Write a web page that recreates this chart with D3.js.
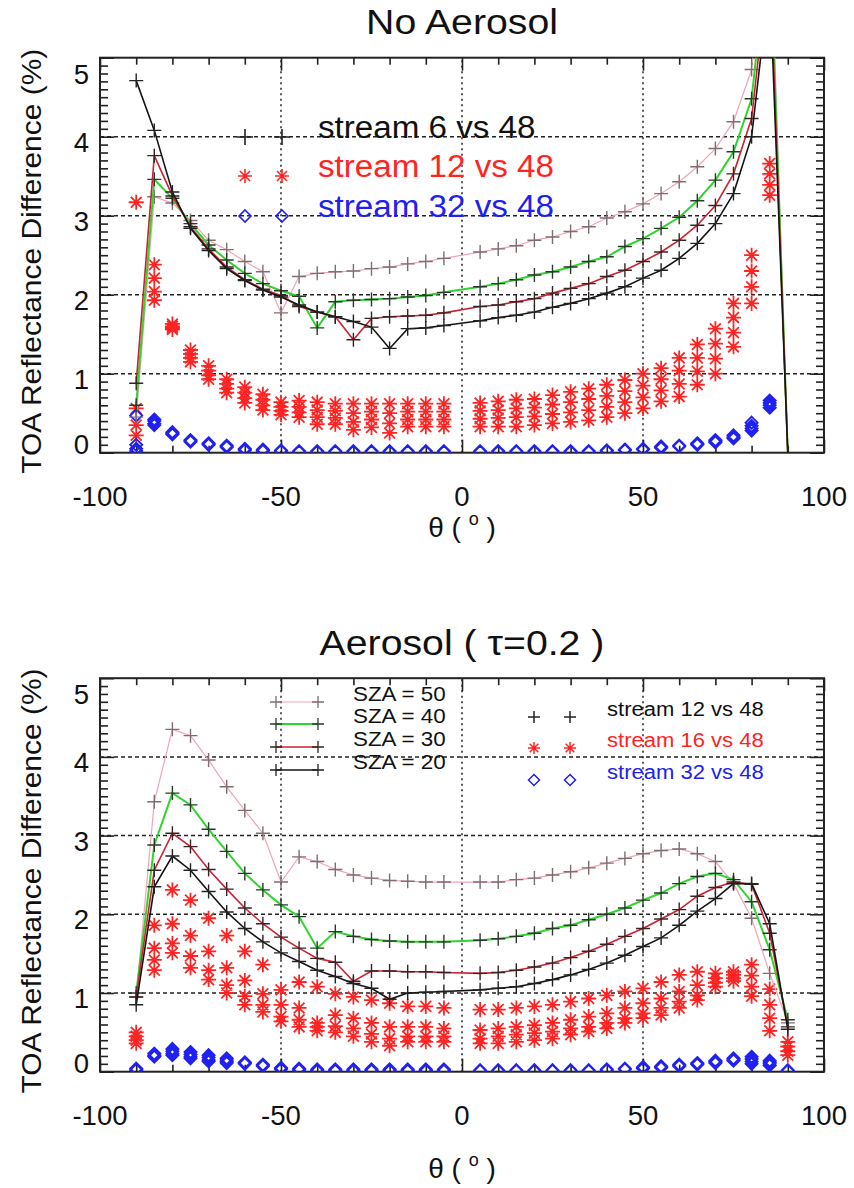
<!DOCTYPE html>
<html><head><meta charset="utf-8">
<script src="https://cdn.jsdelivr.net/npm/d3@7"></script>
<style>body{margin:0;background:#fff}svg text{font-family:"Liberation Sans",Arial,Helvetica,sans-serif}</style>
</head><body><svg id="c" width="854" height="1188"></svg>
<script>
// ---------------- DATA ----------------
const theta = [-90,-85,-80,-75,-70,-65,-60,-55,-50,-45,-40,-35,-30,-25,-20,-15,-10,-5,
               5,10,15,20,25,30,35,40,45,50,55,60,65,70,75,80,85,90];
const szaLabels = ["SZA = 50","SZA = 40","SZA = 30","SZA = 20"];
const xTickLabels = [-100,-50,0,50,100];
const yTickLabels = [0,1,2,3,4,5];

// Top panel (No Aerosol): stream 6 vs 48, one line per SZA
const top6_sza50 = [0.45,3.24,3.16,2.94,2.69,2.57,2.42,2.29,1.77,2.23,2.27,2.29,2.30,2.33,2.35,2.39,2.42,2.46,
                    2.54,2.58,2.62,2.69,2.73,2.80,2.86,2.97,3.05,3.15,3.28,3.43,3.62,3.85,4.19,4.85,7.0,0];
const top6_sza40 = [0.60,3.46,3.22,2.90,2.63,2.44,2.27,2.14,2.05,1.98,1.58,1.91,1.93,1.94,1.95,1.97,1.99,2.03,
                    2.10,2.14,2.19,2.25,2.29,2.35,2.42,2.48,2.61,2.71,2.84,2.98,3.19,3.45,3.81,4.48,6.6,0];
const top6_sza30 = [0.88,3.76,3.25,2.86,2.58,2.35,2.19,2.07,1.99,1.85,1.78,1.72,1.43,1.70,1.72,1.73,1.74,1.77,
                    1.85,1.87,1.91,1.95,2.02,2.08,2.14,2.23,2.31,2.42,2.54,2.69,2.88,3.13,3.53,4.23,6.3,0];
const top6_sza20 = [4.71,4.08,3.30,2.84,2.56,2.33,2.18,2.06,1.97,1.87,1.78,1.72,1.66,1.59,1.32,1.57,1.58,1.61,
                    1.67,1.71,1.74,1.78,1.84,1.89,1.95,2.02,2.10,2.21,2.31,2.46,2.65,2.90,3.28,4.00,6.0,0];
// Top panel: stream 12 vs 48 (asterisks), per theta: 4 SZA values
const top12 = [
 [3.17,0.56,0.35,0.22],[2.38,2.21,2.04,1.93],[1.63,1.60,1.58,1.56],[1.30,1.25,1.20,1.15],
 [1.10,1.04,0.98,0.93],[0.93,0.87,0.81,0.76],[0.83,0.76,0.69,0.63],[0.74,0.67,0.60,0.54],
 [0.64,0.58,0.53,0.48],[0.66,0.58,0.51,0.45],[0.64,0.54,0.45,0.36],[0.62,0.53,0.44,0.36],
 [0.62,0.50,0.39,0.29],[0.62,0.52,0.42,0.32],[0.62,0.50,0.37,0.25],[0.62,0.52,0.42,0.33],
 [0.62,0.52,0.42,0.33],[0.62,0.52,0.42,0.33],
 [0.63,0.53,0.43,0.33],[0.65,0.54,0.44,0.33],[0.67,0.56,0.45,0.33],[0.68,0.57,0.46,0.35],
 [0.73,0.61,0.49,0.37],[0.77,0.64,0.51,0.39],[0.81,0.68,0.54,0.41],[0.86,0.72,0.58,0.45],
 [0.92,0.78,0.64,0.50],[1.00,0.85,0.70,0.56],[1.07,0.93,0.79,0.65],[1.20,1.04,0.87,0.71],
 [1.37,1.20,1.03,0.86],[1.57,1.38,1.19,1.00],[1.89,1.71,1.52,1.34],[2.50,2.30,2.10,1.89],
 [3.66,3.53,3.39,3.26],[]
];
// Top panel: stream 32 vs 48 (diamonds)
const top32 = [
 [0.47,0.10,0.05,0.02],[0.42,0.40,0.37,0.35],[0.26,0.25,0.24,0.23],[0.16,0.15,0.15,0.14],
 [0.12,0.11,0.10,0.10],[0.09,0.08,0.08,0.07],[0.05,0.04,0.04,0.03],[0.04,0.03,0.03,0.02],
 [0.03,0.03,0.02,0.02],[0.02,0.02,0.01,0.01],[0.02,0.02,0.01,0.01],[0.02,0.02,0.01,0.01],
 [0.02,0.02,0.01,0.01],[0.02,0.02,0.01,0.01],[0.02,0.02,0.01,0.01],[0.02,0.02,0.01,0.01],
 [0.02,0.02,0.01,0.01],[0.02,0.02,0.01,0.01],
 [0.02,0.02,0.01,0.01],[0.02,0.02,0.01,0.01],[0.02,0.02,0.01,0.01],[0.02,0.02,0.01,0.01],
 [0.02,0.02,0.01,0.01],[0.02,0.02,0.01,0.01],[0.02,0.02,0.01,0.01],[0.03,0.03,0.02,0.02],
 [0.04,0.04,0.03,0.03],[0.05,0.05,0.04,0.04],[0.08,0.07,0.07,0.06],[0.09,0.09,0.08,0.08],
 [0.12,0.11,0.11,0.10],[0.16,0.15,0.14,0.13],[0.22,0.20,0.19,0.18],[0.38,0.34,0.31,0.28],
 [0.66,0.63,0.60,0.57],[]
];

// Bottom panel (Aerosol tau=0.2): stream 12 vs 48 lines
const bot12_sza50 = [0.95,3.43,4.35,4.27,3.96,3.62,3.32,3.03,2.41,2.73,2.67,2.57,2.50,2.46,2.43,2.42,2.41,2.41,
                     2.41,2.41,2.44,2.46,2.50,2.54,2.59,2.65,2.71,2.77,2.81,2.83,2.77,2.67,2.39,1.95,1.25,0.62];
const bot12_sza40 = [1.00,2.88,3.54,3.39,3.08,2.80,2.52,2.31,2.12,1.97,1.57,1.78,1.72,1.68,1.66,1.65,1.65,1.65,
                     1.67,1.69,1.72,1.76,1.82,1.86,1.93,2.00,2.08,2.18,2.27,2.39,2.48,2.52,2.44,2.16,1.55,0.66];
const bot12_sza30 = [0.95,2.56,3.03,2.86,2.57,2.32,2.08,1.88,1.71,1.57,1.44,1.39,1.15,1.28,1.28,1.27,1.27,1.26,
                     1.25,1.26,1.29,1.33,1.38,1.45,1.53,1.62,1.72,1.82,1.94,2.06,2.23,2.34,2.41,2.38,1.76,0.57];
const bot12_sza20 = [0.85,2.35,2.74,2.56,2.29,2.03,1.82,1.65,1.51,1.40,1.29,1.21,1.12,1.06,0.92,1.00,1.01,1.02,
                     1.04,1.06,1.08,1.12,1.17,1.23,1.30,1.38,1.48,1.59,1.70,1.86,2.04,2.20,2.39,2.39,1.88,0.54];
// Bottom panel: stream 16 vs 48 (asterisks)
const bot16 = [
 [0.50,0.45,0.40,0.36],[1.86,1.57,1.42,1.29],[2.31,1.88,1.63,1.51],[2.18,1.73,1.47,1.32],
 [1.95,1.53,1.29,1.17],[1.73,1.32,1.10,1.00],[1.53,1.16,0.96,0.85],[1.36,0.99,0.85,0.76],
 [1.04,0.85,0.70,0.64],[1.14,0.81,0.66,0.57],[1.08,0.62,0.57,0.52],[0.99,0.72,0.58,0.50],
 [0.95,0.68,0.55,0.45],[0.91,0.62,0.48,0.38],[0.87,0.57,0.42,0.33],[0.83,0.57,0.45,0.38],
 [0.83,0.57,0.45,0.38],[0.81,0.55,0.45,0.38],
 [0.79,0.53,0.42,0.36],[0.79,0.55,0.45,0.36],[0.81,0.57,0.47,0.38],[0.83,0.59,0.49,0.40],
 [0.85,0.62,0.51,0.42],[0.89,0.66,0.55,0.47],[0.93,0.70,0.57,0.51],[0.97,0.74,0.62,0.55],
 [1.02,0.81,0.68,0.62],[1.06,0.87,0.74,0.68],[1.14,0.93,0.81,0.72],[1.23,1.02,0.89,0.81],
 [1.27,1.10,0.97,0.91],[1.25,1.19,1.13,1.08],[1.27,1.23,1.19,1.15],[1.36,1.22,1.08,0.96],
 [1.05,0.85,0.68,0.52],[0.38,0.32,0.26,0.21]
];
// Bottom panel: stream 32 vs 48 (diamonds)
const bot32 = [
 [0.04,0.03,0.03,0.02],[0.23,0.21,0.20,0.19],[0.29,0.26,0.23,0.21],[0.25,0.22,0.19,0.17],
 [0.21,0.18,0.15,0.13],[0.17,0.15,0.13,0.11],[0.12,0.11,0.10,0.10],[0.09,0.08,0.08,0.07],
 [0.05,0.04,0.04,0.03],[0.04,0.03,0.03,0.02],[0.03,0.02,0.02,0.01],[0.03,0.02,0.02,0.01],
 [0.03,0.02,0.02,0.01],[0.03,0.02,0.02,0.01],[0.03,0.02,0.02,0.01],[0.03,0.02,0.02,0.01],
 [0.03,0.02,0.02,0.01],[0.03,0.02,0.02,0.01],
 [0.02,0.02,0.01,0.01],[0.02,0.02,0.01,0.01],[0.02,0.02,0.01,0.01],[0.02,0.02,0.01,0.01],
 [0.02,0.02,0.01,0.01],[0.02,0.02,0.01,0.01],[0.02,0.02,0.01,0.01],[0.03,0.03,0.02,0.02],
 [0.04,0.04,0.03,0.03],[0.06,0.05,0.05,0.04],[0.07,0.06,0.06,0.05],[0.09,0.08,0.07,0.07],
 [0.11,0.10,0.09,0.09],[0.14,0.13,0.12,0.11],[0.17,0.16,0.15,0.14],[0.19,0.16,0.13,0.10],
 [0.14,0.12,0.10,0.08],[0.02,0.02,0.01,0.01]
];

// ---------------- STYLE ----------------
const lineColors = ["#f3a3b5","#2fd52f","#cc2233","#151515"];
const plusColors = ["#7d6e70","#2a3a2a","#3a2222","#222222"];
const lineWidths = [1.2,2,1.6,1.6];
const RED = "#ff2424", BLUE = "#2020f0";

const svg = d3.select("#c");
const X = d3.scaleLinear().domain([-100,100]).range([100,824]);

function plusPath(x,y,s){return `M${x-s},${y}H${x+s}M${x},${y-s}V${y+s}`;}
function astPath(x,y,s){const d=s*0.72;return `M${x-s},${y}H${x+s}M${x},${y-s}V${y+s}M${x-d},${y-d}L${x+d},${y+d}M${x-d},${y+d}L${x+d},${y-d}`;}
function diaPath(x,y,s){return `M${x},${y-s}L${x+s},${y}L${x},${y+s}L${x-s},${y}Z`;}

function text(g,x,y,str,size,opt={}){
  const sx = opt.sx||1;
  const t = g.append("text").attr("transform",`translate(${x},${y})${opt.rot?` rotate(${opt.rot})`:""} scale(${sx},1)`)
    .attr("font-size",size).attr("fill",opt.fill||"#111").attr("text-anchor",opt.anchor||"start");
  if(opt.parts){opt.parts.forEach(p=>{const ts=t.append("tspan").text(p.t);if(p.dy)ts.attr("dy",p.dy);if(p.fs)ts.attr("font-size",p.fs);});}
  else t.text(str);
  return t;
}

function panel(p){
  const Y = d3.scaleLinear().domain([0,5]).range([p.y0,p.y5]);
  const g = svg.append("g");
  const cid = "clip"+p.id;
  svg.append("defs").append("clipPath").attr("id",cid).append("rect")
    .attr("x",X(-100)).attr("y",Y(5)).attr("width",X(100)-X(-100)).attr("height",Y(0)-Y(5));

  // grid
  g.append("g").selectAll("line").data([-50,0,50]).join("line")
    .attr("x1",d=>X(d)).attr("x2",d=>X(d)).attr("y1",Y(0)).attr("y2",Y(5))
    .attr("stroke","#222").attr("stroke-width",1.5).attr("stroke-dasharray","2,3.5");
  g.append("g").selectAll("line").data([1,2,3,4]).join("line")
    .attr("x1",X(-100)).attr("x2",X(100)).attr("y1",d=>Y(d)).attr("y2",d=>Y(d))
    .attr("stroke","#222").attr("stroke-width",1.5).attr("stroke-dasharray","4,3");

  // axes ticks (inward)
  const minorX = d3.range(-90,100,10).filter(v=>v%50!==0);
  const minorY = d3.range(1,50).filter(v=>v%10!==0).map(v=>v/10);
  const mk = (axis,tr)=>{const a=g.append("g").attr("transform",tr).call(axis);a.select(".domain").remove();a.selectAll("line").attr("stroke","#222").attr("stroke-width",1.6);a.selectAll("text").remove();};
  mk(d3.axisBottom(X).tickValues(minorX).tickSize(-7).tickSizeOuter(0),`translate(0,${Y(0)})`);
  mk(d3.axisBottom(X).tickValues(xTickLabels).tickSize(-13).tickSizeOuter(0),`translate(0,${Y(0)})`);
  mk(d3.axisTop(X).tickValues(minorX).tickSize(-7).tickSizeOuter(0),`translate(0,${Y(5)})`);
  mk(d3.axisTop(X).tickValues(xTickLabels).tickSize(-13).tickSizeOuter(0),`translate(0,${Y(5)})`);
  mk(d3.axisLeft(Y).tickValues(minorY).tickSize(-8).tickSizeOuter(0),`translate(${X(-100)},0)`);
  mk(d3.axisLeft(Y).tickValues(yTickLabels).tickSize(-14).tickSizeOuter(0),`translate(${X(-100)},0)`);
  mk(d3.axisRight(Y).tickValues(minorY).tickSize(-8).tickSizeOuter(0),`translate(${X(100)},0)`);
  mk(d3.axisRight(Y).tickValues(yTickLabels).tickSize(-14).tickSizeOuter(0),`translate(${X(100)},0)`);

  // frame
  g.append("rect").attr("x",X(-100)).attr("y",Y(5)).attr("width",X(100)-X(-100)).attr("height",Y(0)-Y(5))
    .attr("fill","none").attr("stroke","#222").attr("stroke-width",2);

  // tick labels
  xTickLabels.forEach(v=>text(g,X(v),p.xlabY,String(v),27,{anchor:"middle",sx:1.02}));
  yTickLabels.forEach(v=>{const off = v===0?1:(v===5?26:15);text(g,89,Y(v)+off,String(v),27,{anchor:"end",sx:1.02});});

  // titles
  text(g,462,p.titleY,p.title,36,{anchor:"middle",sx:1.09});
  text(g,462,p.xtitleY,null,28,{anchor:"middle",parts:[{t:"θ ( "},{t:"o",dy:-12,fs:18},{t:" )",dy:12}]});
  text(g,41,(Y(0)+Y(5))/2+6,"TOA Reflectance Difference (%)",28,{anchor:"middle",rot:-90,sx:1.07});

  const plot = g.append("g").attr("clip-path",`url(#${cid})`);

  // asterisks
  const ast=[];p.ast.forEach((row,i)=>row.forEach(v=>ast.push([theta[i],v])));
  plot.append("path").attr("d",ast.map(d=>astPath(X(d[0]),Y(d[1]),7.5)).join(""))
    .attr("stroke",RED).attr("stroke-width",1.8).attr("fill","none");
  // diamonds
  const dia=[];p.dia.forEach((row,i)=>row.forEach(v=>dia.push([theta[i],v])));
  plot.append("path").attr("d",dia.map(d=>diaPath(X(d[0]),Y(d[1]),6)).join(""))
    .attr("stroke",BLUE).attr("stroke-width",1.9).attr("fill","none");

  // lines with + markers
  const line = d3.line().x(d=>X(d[0])).y(d=>Y(d[1]));
  p.lines.forEach((vals,k)=>{
    const pts = theta.map((t,i)=>[t,vals[i]]);
    plot.append("path").attr("d",line(pts)).attr("fill","none").attr("stroke",lineColors[k]).attr("stroke-width",lineWidths[k]);
    plot.append("path").attr("d",pts.map(d=>plusPath(X(d[0]),Y(d[1]),7)).join(""))
      .attr("stroke",plusColors[k]).attr("stroke-width",1.4).attr("fill","none");
  });
  return {g,Y};
}

// ---------------- TOP PANEL ----------------
const T = panel({id:"t",y0:452.7,y5:57.7,xlabY:506,xtitleY:537,titleY:34,title:"No Aerosol",
  lines:[top6_sza50,top6_sza40,top6_sza30,top6_sza20],ast:top12,dia:top32});
// legend (top)
const topLeg = [["stream 6 vs 48","#111","plus"],["stream 12 vs 48",RED,"ast"],["stream 32 vs 48",BLUE,"dia"]];
topLeg.forEach((d,i)=>{
  const y = [137,176,216][i];
  [245,282].forEach(x=>{
    const path = d[2]==="plus"?plusPath(x,y,8):d[2]==="ast"?astPath(x,y,7):diaPath(x,y,6);
    T.g.append("path").attr("d",path).attr("fill","none").attr("stroke",d[2]==="plus"?"#222":d[1]).attr("stroke-width",1.6);
  });
  text(T.g,318,y+1,d[0],31,{fill:d[1],sx:1.07});
});

// ---------------- BOTTOM PANEL ----------------
const B = panel({id:"b",y0:1071.7,y5:678.2,xlabY:1125,xtitleY:1178,titleY:655,title:"Aerosol ( τ=0.2 )",
  lines:[bot12_sza50,bot12_sza40,bot12_sza30,bot12_sza20],ast:bot16,dia:bot32});
// SZA legend
szaLabels.forEach((s,k)=>{
  const y=[702,724,747,770][k];
  B.g.append("line").attr("x1",276).attr("x2",318).attr("y1",y).attr("y2",y).attr("stroke",lineColors[k]).attr("stroke-width",lineWidths[k]);
  B.g.append("path").attr("d",plusPath(276,y,6)+plusPath(318,y,6)).attr("stroke",plusColors[k]).attr("stroke-width",1.3).attr("fill","none");
  text(B.g,353,y-1,s,20,{sx:1.12});
});
const botLeg = [["stream 12 vs 48","#111","plus"],["stream 16 vs 48",RED,"ast"],["stream 32 vs 48",BLUE,"dia"]];
botLeg.forEach((d,i)=>{
  const y=[717,748,780][i];
  [534,570].forEach(x=>{
    const path = d[2]==="plus"?plusPath(x,y,6):d[2]==="ast"?astPath(x,y,6):diaPath(x,y,5.5);
    B.g.append("path").attr("d",path).attr("fill","none").attr("stroke",d[2]==="plus"?"#222":d[1]).attr("stroke-width",1.5);
  });
  text(B.g,607,y-1,d[0],19.5,{fill:d[1],sx:1.13});
});
</script></body></html>
